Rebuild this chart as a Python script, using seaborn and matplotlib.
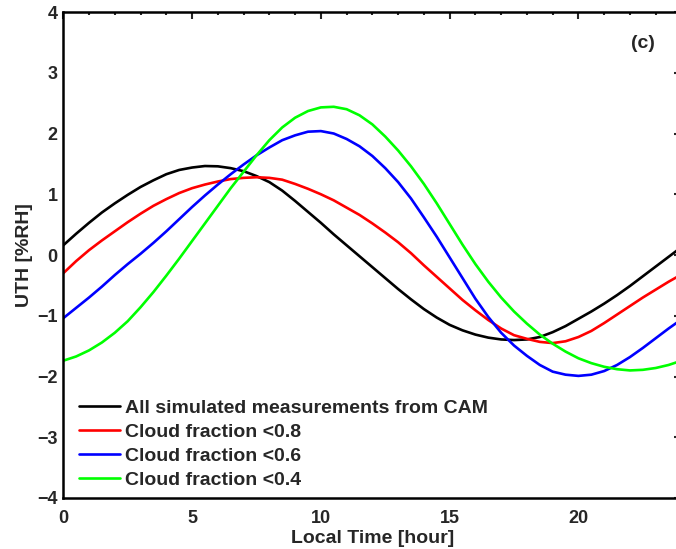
import numpy as np
import pandas as pd
import matplotlib
matplotlib.use("Agg")
import matplotlib.pyplot as plt
import seaborn as sns
from matplotlib.ticker import MultipleLocator

# valeurs (UTH, %RH), toutes les demi-heures de 0 a 24 h
heures = [i * 0.5 for i in range(49)]
uth_all = [0.16, 0.35, 0.53, 0.70, 0.85, 0.99, 1.12, 1.23, 1.33, 1.40,
           1.44, 1.465, 1.46, 1.43, 1.38, 1.30, 1.20, 1.06, 0.89, 0.71,
           0.53, 0.34, 0.16, -0.02, -0.20, -0.38, -0.56, -0.73, -0.89, -1.03,
           -1.15, -1.24, -1.31, -1.36, -1.39, -1.40, -1.39, -1.35, -1.27, -1.17,
           -1.05, -0.93, -0.80, -0.66, -0.51, -0.35, -0.19, -0.03, 0.13]
uth_08 = [-0.30, -0.10, 0.08, 0.24, 0.39, 0.54, 0.68, 0.81, 0.92, 1.02,
          1.10, 1.16, 1.21, 1.25, 1.27, 1.28, 1.27, 1.24, 1.17, 1.09,
          1.00, 0.90, 0.78, 0.66, 0.52, 0.37, 0.21, 0.03, -0.17, -0.36,
          -0.55, -0.74, -0.91, -1.07, -1.21, -1.32, -1.38, -1.43, -1.45, -1.42,
          -1.35, -1.25, -1.12, -0.98, -0.84, -0.70, -0.57, -0.44, -0.32]
uth_06 = [-1.04, -0.87, -0.70, -0.52, -0.33, -0.15, 0.02, 0.20, 0.39, 0.59,
          0.79, 0.98, 1.16, 1.33, 1.49, 1.64, 1.77, 1.89, 1.97, 2.03,
          2.04, 2.00, 1.91, 1.79, 1.63, 1.43, 1.20, 0.93, 0.62, 0.30,
          -0.04, -0.38, -0.72, -1.02, -1.28, -1.49, -1.66, -1.81, -1.92, -1.97,
          -1.99, -1.97, -1.91, -1.81, -1.68, -1.53, -1.37, -1.21, -1.06]
uth_04 = [-1.74, -1.67, -1.57, -1.44, -1.28, -1.09, -0.86, -0.61, -0.34, -0.06,
          0.23, 0.52, 0.81, 1.10, 1.37, 1.64, 1.89, 2.10, 2.26, 2.37,
          2.43, 2.44, 2.40, 2.30, 2.15, 1.95, 1.72, 1.46, 1.17, 0.85,
          0.51, 0.17, -0.15, -0.44, -0.70, -0.93, -1.13, -1.31, -1.46, -1.59,
          -1.70, -1.78, -1.84, -1.88, -1.90, -1.89, -1.86, -1.81, -1.74]

noms = ["All simulated measurements from CAM", "Cloud fraction <0.8",
        "Cloud fraction <0.6", "Cloud fraction <0.4"]
couleurs = ["#000000", "#ff0000", "#0000ff", "#00ff00"]

df = pd.DataFrame({
    "heure": heures * 4,
    "uth": uth_all + uth_08 + uth_06 + uth_04,
    "serie": [n for n in noms for _ in heures],
})

sns.set_style("white")
plt.rcParams["font.family"] = ["Liberation Sans", "DejaVu Sans"]
plt.rcParams["font.weight"] = "bold"

fig = plt.figure(figsize=(6.76, 5.49), dpi=100)
ax = fig.add_axes([0.0936, 0.0929, 0.9145, 0.8852])

sns.lineplot(data=df, x="heure", y="uth", hue="serie", hue_order=noms,
             palette=couleurs, linewidth=1.9, ax=ax)

ax.set_xlim(0, 24)
ax.set_ylim(-4, 4)
ax.xaxis.set_major_locator(MultipleLocator(5))
ax.xaxis.set_minor_locator(MultipleLocator(1))
ax.yaxis.set_major_locator(MultipleLocator(1))
ax.yaxis.set_minor_locator(MultipleLocator(0.5))
ax.tick_params(which="both", direction="in", top=True, right=True,
               width=1.5, labelsize=13)
ax.tick_params(axis="x", which="major", pad=8.5)
ax.tick_params(axis="y", which="major", pad=4)
ax.tick_params(which="major", length=5)
ax.tick_params(which="minor", length=2.5)
for lab in ax.get_xticklabels() + ax.get_yticklabels():
    lab.set_fontweight("bold")
for sp in ax.spines.values():
    sp.set_linewidth(1.8)
    sp.set_color("black")

ax.set_xlabel("Local Time [hour]", fontsize=14, fontweight="bold", labelpad=2)
ax.set_ylabel("UTH [%RH]", fontsize=14, fontweight="bold", labelpad=3)

ax.text(0.937, 0.935, "(c)", transform=ax.transAxes, fontsize=14,
        fontweight="bold", ha="center", va="center")

leg = ax.legend(loc="lower left", bbox_to_anchor=(0.026, 0.018), frameon=False,
                fontsize=14, handlelength=2.1, handletextpad=0.26,
                labelspacing=0.33, borderaxespad=0, borderpad=0)
for t in leg.get_texts():
    t.set_fontweight("bold")

fig.savefig("out.png", dpi=100)
